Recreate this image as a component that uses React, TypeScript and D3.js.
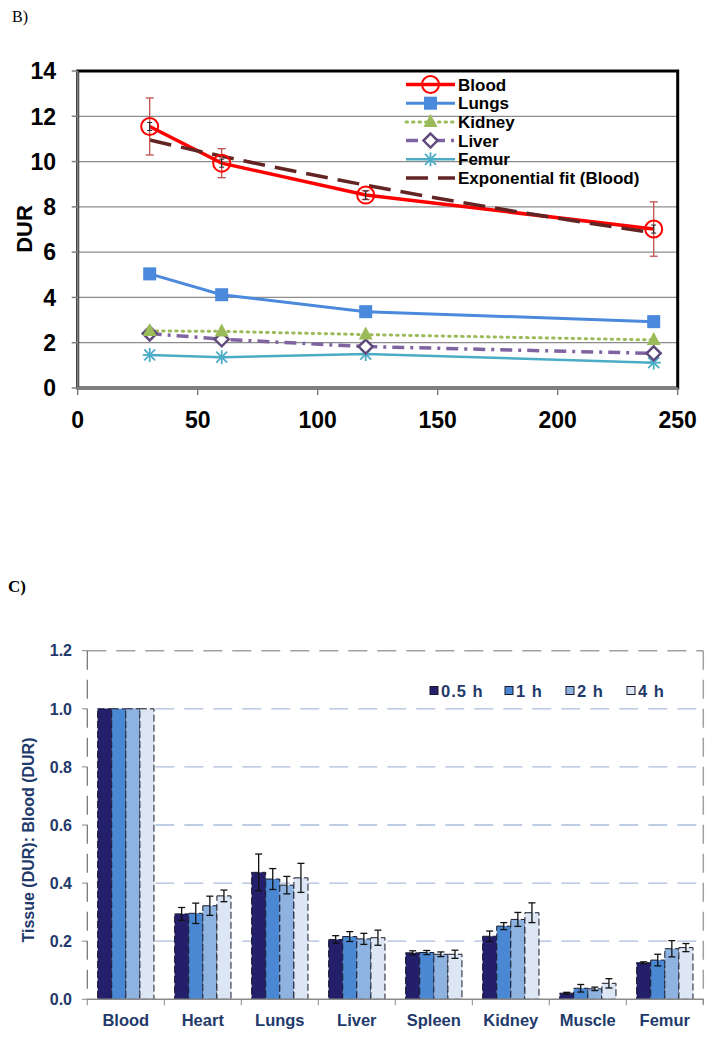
import React from "react";
import * as d3 from "d3";

// ---------- Chart B data ----------
const timesB = [30, 60, 120, 240];
const bloodVals = [11.55, 9.93, 8.52, 7.02];
const bloodErr = [1.26, 0.64, 0.2, 1.2];
const lungsVals = [5.04, 4.12, 3.37, 2.93];
const kidneyVals = [2.52, 2.5, 2.36, 2.12];
const liverVals = [2.41, 2.15, 1.83, 1.53];
const femurVals = [1.46, 1.36, 1.5, 1.12];
const expFitTimes = [30, 60, 90, 120, 150, 180, 210, 240];
const expFitVals = [10.95, 10.24, 9.58, 8.96, 8.38, 7.84, 7.33, 6.85];
const yTicksB = [0, 2, 4, 6, 8, 10, 12, 14];
const xTicksB = [0, 50, 100, 150, 200, 250];

// ---------- Chart C data ----------
const tissues = ["Blood", "Heart", "Lungs", "Liver", "Spleen", "Kidney", "Muscle", "Femur"];
const timeLabels = ["0.5 h", "1 h", "2 h", "4 h"];
const ratio05 = [1.0, 0.294, 0.437, 0.206, 0.16, 0.217, 0.021, 0.126];
const ratio1 = [1.0, 0.296, 0.414, 0.216, 0.161, 0.252, 0.038, 0.135];
const ratio2 = [1.0, 0.322, 0.393, 0.208, 0.155, 0.275, 0.036, 0.174];
const ratio4 = [1.0, 0.356, 0.418, 0.212, 0.155, 0.298, 0.055, 0.178];
const err05 = [0, 0.022, 0.063, 0.013, 0.007, 0.018, 0.003, 0.003];
const err1 = [0, 0.035, 0.036, 0.017, 0.007, 0.012, 0.013, 0.02];
const err2 = [0, 0.033, 0.03, 0.019, 0.008, 0.024, 0.006, 0.028];
const err4 = [0, 0.02, 0.05, 0.026, 0.014, 0.034, 0.016, 0.014];
const yTicksC = [0, 0.2, 0.4, 0.6, 0.8, 1.0, 1.2];

const barColors = ["#231f6b", "#4a88d4", "#8fb3e0", "#dce6f4"];

function ChartB() {
  const x = d3.scaleLinear().domain([0, 250]).range([77.7, 677.7]);
  const y = d3.scaleLinear().domain([0, 14]).range([388, 71]);
  const line = d3.line<[number, number]>().x((d) => x(d[0])).y((d) => y(d[1]));
  const curve = d3
    .line<[number, number]>()
    .x((d) => x(d[0]))
    .y((d) => y(d[1]))
    .curve(d3.curveMonotoneX);
  const pts = (vals: number[]) => timesB.map((t, i) => [t, vals[i]] as [number, number]);
  const font = "Arial, 'Liberation Sans', sans-serif";

  const circleM = (cx: number, cy: number, k: string) => (
    <circle key={k} cx={cx} cy={cy} r={8.5} fill="none" stroke="#ff0000" strokeWidth={2} />
  );
  const squareM = (cx: number, cy: number, k: string) => (
    <rect key={k} x={cx - 6.5} y={cy - 6.5} width={13} height={13} fill="#4a89dc" />
  );
  const triM = (cx: number, cy: number, k: string) => (
    <path key={k} d={`M${cx},${cy - 8} L${cx + 7},${cy + 5} L${cx - 7},${cy + 5} Z`} fill="#9bbb59" />
  );
  const diaM = (cx: number, cy: number, k: string) => (
    <path
      key={k}
      d={`M${cx},${cy - 7} L${cx + 7},${cy} L${cx},${cy + 7} L${cx - 7},${cy} Z`}
      fill="#fff"
      stroke="#604a7b"
      strokeWidth={2.5}
    />
  );
  const starM = (cx: number, cy: number, k: string) => (
    <g key={k} stroke="#4bacc6" strokeWidth={1.8}>
      <line x1={cx - 7} y1={cy} x2={cx + 7} y2={cy} />
      <line x1={cx} y1={cy - 7} x2={cx} y2={cy + 7} />
      <line x1={cx - 5.5} y1={cy - 5.5} x2={cx + 5.5} y2={cy + 5.5} />
      <line x1={cx - 5.5} y1={cy + 5.5} x2={cx + 5.5} y2={cy - 5.5} />
    </g>
  );

  const legend = [
    { name: "Blood", color: "#ff0000", w: 3.5, dash: "", m: circleM },
    { name: "Lungs", color: "#4a89dc", w: 3, dash: "", m: squareM },
    { name: "Kidney", color: "#9bbb59", w: 3, dash: "1.5,5", m: triM, cap: "round" },
    { name: "Liver", color: "#8064a2", w: 3.5, dash: "12,6,3,6", m: diaM },
    { name: "Femur", color: "#4bacc6", w: 2.5, dash: "", m: starM },
    { name: "Exponential fit (Blood)", color: "#632523", w: 3.5, dash: "22,10", m: null },
  ];

  return (
    <g>
      <text x={12} y={22} fontFamily="'Times New Roman', 'Liberation Serif', serif" fontSize={16}>
        B)
      </text>
      {/* gridlines */}
      {yTicksB.filter((t) => t > 0 && t < 14).map((t) => (
        <line key={t} x1={x(0)} x2={x(250)} y1={y(t)} y2={y(t)} stroke="#8c8c8c" strokeWidth={1.2} />
      ))}
      {/* frame */}
      <rect x={x(0)} y={y(14)} width={x(250) - x(0)} height={y(0) - y(14)} fill="none" stroke="#000" strokeWidth={3} />
      <line x1={x(0)} x2={x(0)} y1={y(14)} y2={y(0) + 1} stroke="#7f7f7f" strokeWidth={2} />
      <line x1={x(0)} x2={x(250)} y1={y(0)} y2={y(0)} stroke="#7f7f7f" strokeWidth={2} />
      {/* ticks */}
      {yTicksB.map((t) => (
        <g key={t}>
          <line x1={x(0) - 6} x2={x(0)} y1={y(t)} y2={y(t)} stroke="#7f7f7f" strokeWidth={1.5} />
          <text
            x={56}
            y={y(t)}
            dy="0.36em"
            textAnchor="end"
            fontFamily={font}
            fontWeight="bold"
            fontSize={23}
          >
            {t}
          </text>
        </g>
      ))}
      {xTicksB.map((t) => (
        <g key={t}>
          <line x1={x(t)} x2={x(t)} y1={y(0)} y2={y(0) + 7} stroke="#7f7f7f" strokeWidth={1.5} />
          <text x={x(t)} y={428} textAnchor="middle" fontFamily={font} fontWeight="bold" fontSize={23}>
            {t}
          </text>
        </g>
      ))}
      <text
        transform={`translate(32,229) rotate(-90)`}
        textAnchor="middle"
        fontFamily={font}
        fontWeight="bold"
        fontSize={22}
      >
        DUR
      </text>

      {/* series lines */}
      <path d={line(pts(femurVals)) || ""} fill="none" stroke="#4bacc6" strokeWidth={2.5} />
      <path
        d={line(pts(liverVals)) || ""}
        fill="none"
        stroke="#8064a2"
        strokeWidth={3.5}
        strokeDasharray="12,6,3,6"
      />
      <path
        d={line(pts(kidneyVals)) || ""}
        fill="none"
        stroke="#9bbb59"
        strokeWidth={3}
        strokeDasharray="1.5,5"
        strokeLinecap="round"
      />
      <path d={line(pts(lungsVals)) || ""} fill="none" stroke="#4a89dc" strokeWidth={3} />
      <path d={line(pts(bloodVals)) || ""} fill="none" stroke="#ff0000" strokeWidth={3.5} />
      <path
        d={curve(expFitTimes.map((t, i) => [t, expFitVals[i]] as [number, number])) || ""}
        fill="none"
        stroke="#632523"
        strokeWidth={3.5}
        strokeDasharray="22,10"
      />
      {/* error bars blood */}
      {timesB.map((t, i) => (
        <g key={t} stroke="#c0504d" strokeWidth={1.3}>
          <line x1={x(t)} x2={x(t)} y1={y(bloodVals[i] + bloodErr[i])} y2={y(bloodVals[i] - bloodErr[i])} />
          <line x1={x(t) - 4} x2={x(t) + 4} y1={y(bloodVals[i] + bloodErr[i])} y2={y(bloodVals[i] + bloodErr[i])} />
          <line x1={x(t) - 4} x2={x(t) + 4} y1={y(bloodVals[i] - bloodErr[i])} y2={y(bloodVals[i] - bloodErr[i])} />
        </g>
      ))}
      {/* markers */}
      {timesB.map((t, i) => femurVals[i] !== undefined && starM(x(t), y(femurVals[i]), "f" + i))}
      {timesB.map((t, i) => diaM(x(t), y(liverVals[i]), "l" + i))}
      {timesB.map((t, i) => triM(x(t), y(kidneyVals[i]), "k" + i))}
      {timesB.map((t, i) => squareM(x(t), y(lungsVals[i]), "s" + i))}
      {timesB.map((t, i) => circleM(x(t), y(bloodVals[i]), "b" + i))}
      {timesB.map((t, i) => (
        <g key={"se" + t} stroke="#222" strokeWidth={1}>
          <line x1={x(t)} x2={x(t)} y1={y(bloodVals[i]) - 4} y2={y(bloodVals[i]) + 4} />
          <line x1={x(t) - 2.5} x2={x(t) + 2.5} y1={y(bloodVals[i]) - 4} y2={y(bloodVals[i]) - 4} />
          <line x1={x(t) - 2.5} x2={x(t) + 2.5} y1={y(bloodVals[i]) + 4} y2={y(bloodVals[i]) + 4} />
        </g>
      ))}

      {/* legend */}
      {legend.map((l, i) => {
        const ly = 84.5 + i * 18.7;
        return (
          <g key={l.name}>
            <line
              x1={406}
              x2={455}
              y1={ly}
              y2={ly}
              stroke={l.color}
              strokeWidth={l.w}
              strokeDasharray={l.dash}
              strokeLinecap={(l as any).cap || "butt"}
            />
            {l.m ? l.m(430.5, ly, "lm" + i) : null}
            <text x={458} y={ly} dy="0.36em" fontFamily={font} fontWeight="bold" fontSize={17}>
              {l.name}
            </text>
          </g>
        );
      })}
    </g>
  );
}

function ChartC() {
  const y = d3.scaleLinear().domain([0, 1.2]).range([999.3, 650.7]);
  const x0 = d3.scaleBand<string>().domain(tissues).range([87.3, 703.3]);
  const bw = x0.bandwidth();
  const x1 = d3
    .scaleBand<string>()
    .domain(timeLabels)
    .range([bw * 0.134, bw * 0.866]);
  const series = [ratio05, ratio1, ratio2, ratio4];
  const errs = [err05, err1, err2, err4];
  const navy = "#1f3a6b";
  const font = "Arial, 'Liberation Sans', sans-serif";
  const legendX = [430, 505, 566, 627];

  return (
    <g>
      <text
        x={8}
        y={592}
        fontFamily="'Times New Roman', 'Liberation Serif', serif"
        fontWeight="bold"
        fontSize={17}
      >
        C)
      </text>
      {/* gridlines */}
      {yTicksC.filter((t) => t > 0 && t < 1.2).map((t) => (
        <line
          key={t}
          x1={x0.range()[0]}
          x2={703.3}
          y1={y(t)}
          y2={y(t)}
          stroke="#a9bddc"
          strokeWidth={1.3}
          strokeDasharray="19,10"
          strokeDashoffset={-10}
        />
      ))}
      {/* frame dashed */}
      <line x1={87.3} x2={703.3} y1={y(1.2)} y2={y(1.2)} stroke="#a0a0a0" strokeWidth={1.5} strokeDasharray="19,10" />
      <line x1={703.3} x2={703.3} y1={y(1.2)} y2={y(0) + 5} stroke="#a0a0a0" strokeWidth={1.5} strokeDasharray="19,10" />
      <line x1={87.3} x2={87.3} y1={y(1.2)} y2={y(0)} stroke="#6e6e6e" strokeWidth={1.2} strokeDasharray="19,10" />
      {yTicksC.map((t) => (
        <g key={t}>
          <line x1={82} x2={87.3} y1={y(t)} y2={y(t)} stroke="#8a8a8a" strokeWidth={1} />
          <text
            x={72}
            y={y(t)}
            dy="0.36em"
            textAnchor="end"
            fontFamily={font}
            fontWeight="bold"
            fontSize={16}
            fill={navy}
          >
            {t.toFixed(1)}
          </text>
        </g>
      ))}
      <text
        transform={`translate(34,840) rotate(-90)`}
        textAnchor="middle"
        fontFamily={font}
        fontWeight="bold"
        fontSize={16}
        fill={navy}
      >
        Tissue (DUR): Blood (DUR)
      </text>

      {/* bars */}
      {tissues.map((c, ci) => (
        <g key={c} transform={`translate(${x0(c)},0)`}>
          {series.map((s, si) => (
            <rect
              key={si}
              x={x1(timeLabels[si])}
              y={y(s[ci])}
              width={x1.bandwidth()}
              height={y(0) - y(s[ci])}
              fill={barColors[si]}
              stroke="#1a1a2a"
              strokeWidth={1}
              strokeDasharray="7,3"
            />
          ))}
          {series.map((s, si) =>
            errs[si][ci] > 0 ? (
              <g key={"e" + si} stroke="#111" strokeWidth={1.3}>
                <line
                  x1={(x1(timeLabels[si]) || 0) + x1.bandwidth() / 2}
                  x2={(x1(timeLabels[si]) || 0) + x1.bandwidth() / 2}
                  y1={y(s[ci] + errs[si][ci])}
                  y2={y(s[ci] - errs[si][ci])}
                />
                <line
                  x1={(x1(timeLabels[si]) || 0) + x1.bandwidth() / 2 - 3.5}
                  x2={(x1(timeLabels[si]) || 0) + x1.bandwidth() / 2 + 3.5}
                  y1={y(s[ci] + errs[si][ci])}
                  y2={y(s[ci] + errs[si][ci])}
                />
                <line
                  x1={(x1(timeLabels[si]) || 0) + x1.bandwidth() / 2 - 3.5}
                  x2={(x1(timeLabels[si]) || 0) + x1.bandwidth() / 2 + 3.5}
                  y1={y(s[ci] - errs[si][ci])}
                  y2={y(s[ci] - errs[si][ci])}
                />
              </g>
            ) : null
          )}
          <text
            x={bw / 2}
            y={1026}
            textAnchor="middle"
            fontFamily={font}
            fontWeight="bold"
            fontSize={16.5}
            fill={navy}
          >
            {c}
          </text>
        </g>
      ))}
      {/* x axis */}
      <line x1={87.3} x2={703.3} y1={y(0)} y2={y(0)} stroke="#8a8a8a" strokeWidth={1.5} />
      {tissues.map((c) => (
        <line key={c} x1={x0(c)} x2={x0(c)} y1={y(0)} y2={y(0) + 6} stroke="#8a8a8a" strokeWidth={1} />
      ))}
      <line x1={703.3} x2={703.3} y1={y(0)} y2={y(0) + 6} stroke="#8a8a8a" strokeWidth={1} />

      {/* legend */}
      {timeLabels.map((t, i) => (
        <g key={t}>
          <rect x={legendX[i]} y={686.5} width={8} height={8} fill={barColors[i]} stroke="#1a1a2a" strokeWidth={1} />
          <text
            x={legendX[i] + 11}
            y={690.7}
            dy="0.36em"
            fontFamily={font}
            fontWeight="bold"
            fontSize={16.5}
            fill={navy}
            letterSpacing={1}
          >
            {t}
          </text>
        </g>
      ))}
    </g>
  );
}

export default function App() {
  return (
    <svg
      width={714}
      height={1038}
      style={{ position: "absolute", left: 0, top: 0, background: "#fff" }}
    >
      <rect width={714} height={1038} fill="#fff" />
      <ChartB />
      <ChartC />
    </svg>
  );
}
